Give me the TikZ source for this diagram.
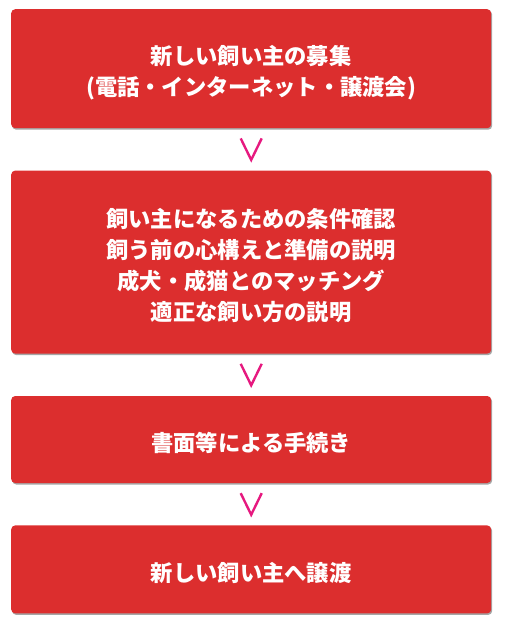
\documentclass[tikz,border=0pt]{standalone}
\usepackage{fontspec}
\setmainfont{Noto Sans CJK JP}
\usetikzlibrary{positioning,calc,shadows}
\definecolor{boxred}{HTML}{DC2E2E}
\definecolor{chevpink}{HTML}{E6197F}
\begin{document}
\begin{tikzpicture}[x=1pt,y=1pt,node distance=42pt]
  \tikzstyle{stepbox}=[rectangle,fill=boxred,rounded corners=4pt,text=white,
    text width=480pt,inner sep=0pt,align=center,
    font=\fontsize{22.3}{31}\selectfont\bfseries,
    execute at begin node={\rule{0pt}{27pt}},
    drop shadow={shadow xshift=1pt,shadow yshift=-1.5pt,opacity=0.35,fill=black}]
  \tikzstyle{chev}=[draw=chevpink,line width=2.4pt,line join=miter]
  \useasboundingbox (0,0) rectangle (510,-627);

  \node[stepbox, minimum height=119pt, anchor=north west] (b1) at (11,-9)
    {新しい飼い主の募集\\(電話・インターネット・譲渡会)};
  \node[stepbox, minimum height=183pt, below=of b1] (b2)
    {飼い主になるための条件確認\\飼う前の心構えと準備の説明\\成犬・成猫とのマッチング\\適正な飼い方の説明};
  \node[stepbox, minimum height=87pt, below=of b2] (b3) {書面等による手続き};
  \node[stepbox, minimum height=88pt, below=of b3] (b4) {新しい飼い主へ譲渡};

  % chevrons between the steps
  \foreach \u/\v in {b1/b2,b2/b3,b3/b4}
    \draw[chev] ($(\u.south)!0.5!(\v.north)+(-10.5,11)$) -- ($(\u.south)!0.5!(\v.north)+(0,-10.5)$)
      -- ($(\u.south)!0.5!(\v.north)+(10.5,11)$);

\end{tikzpicture}
\end{document}
